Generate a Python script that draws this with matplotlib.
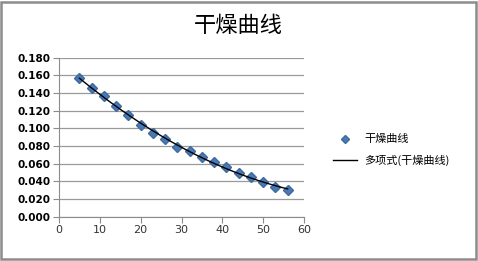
import numpy as np
import matplotlib
matplotlib.use('Agg')
from matplotlib import pyplot as plt
from matplotlib.patches import Rectangle

plt.rcParams['font.family'] = ['Noto Sans CJK SC', 'DejaVu Sans']

# drying curve data
time_x = [5, 8, 11, 14, 17, 20, 23, 26, 29, 32, 35, 38, 41, 44, 47, 50, 53, 56]
moisture = [0.157, 0.146, 0.137, 0.125, 0.115, 0.104, 0.095, 0.088, 0.079, 0.074,
            0.068, 0.062, 0.056, 0.050, 0.045, 0.039, 0.034, 0.030]
y_ticks = [0.0, 0.02, 0.04, 0.06, 0.08, 0.10, 0.12, 0.14, 0.16, 0.18]
x_ticks = [0, 10, 20, 30, 40, 50, 60]

fig = plt.figure(figsize=(4.78, 2.61), dpi=100)
fig.patches.append(Rectangle((0.003, 0.008), 0.992, 0.985, transform=fig.transFigure,
                             fill=False, edgecolor='#8c8c8c', linewidth=1.8))

ax = fig.add_axes([59/478, 1 - 216.7/261, (304-59)/478, (216.7-57.7)/261])

# polynomial trend line (order 2) like the spreadsheet does
coef = np.polyfit(time_x, moisture, 2)
xs = np.linspace(min(time_x), max(time_x), 200)
ax.plot(xs, np.polyval(coef, xs), color='black', linewidth=1.0, zorder=3,
        label='多项式(干燥曲线)')
ax.plot(time_x, moisture, linestyle='none', marker='D', markersize=5.5,
        color='#4a7ab5', markeredgecolor='#3d6aa0', zorder=2, label='干燥曲线')

ax.set_xlim(0, 60)
ax.set_ylim(0, 0.18)
ax.set_xticks(x_ticks)
ax.set_yticks(y_ticks)
ax.set_yticklabels(['%.3f' % v for v in y_ticks], fontsize=7.5, fontweight='bold',
                   family='DejaVu Sans')
ax.set_xticklabels([str(v) for v in x_ticks], fontsize=8, color='#333333',
                   family='DejaVu Sans')
ax.grid(axis='y', color='#9a9a9a', linewidth=0.9)
ax.set_axisbelow(True)
for s in ['top', 'right']:
    ax.spines[s].set_visible(False)
for s in ['left', 'bottom']:
    ax.spines[s].set_color('#8c8c8c')
ax.tick_params(axis='both', length=4, color='#8c8c8c', width=0.8, pad=2)

fig.text(238/478, 1 - 26/261, '干燥曲线', ha='center', va='center', fontsize=16,
         fontweight='medium')

h, l = ax.get_legend_handles_labels()
fig.legend([h[1], h[0]], [l[1], l[0]], loc='center left', bbox_to_anchor=(323/478, 1 - 150/261),
           frameon=False, fontsize=8, handlelength=2.2, labelspacing=0.9, handletextpad=0.6,
           markerscale=0.7)

fig.savefig('out.png', dpi=100)
